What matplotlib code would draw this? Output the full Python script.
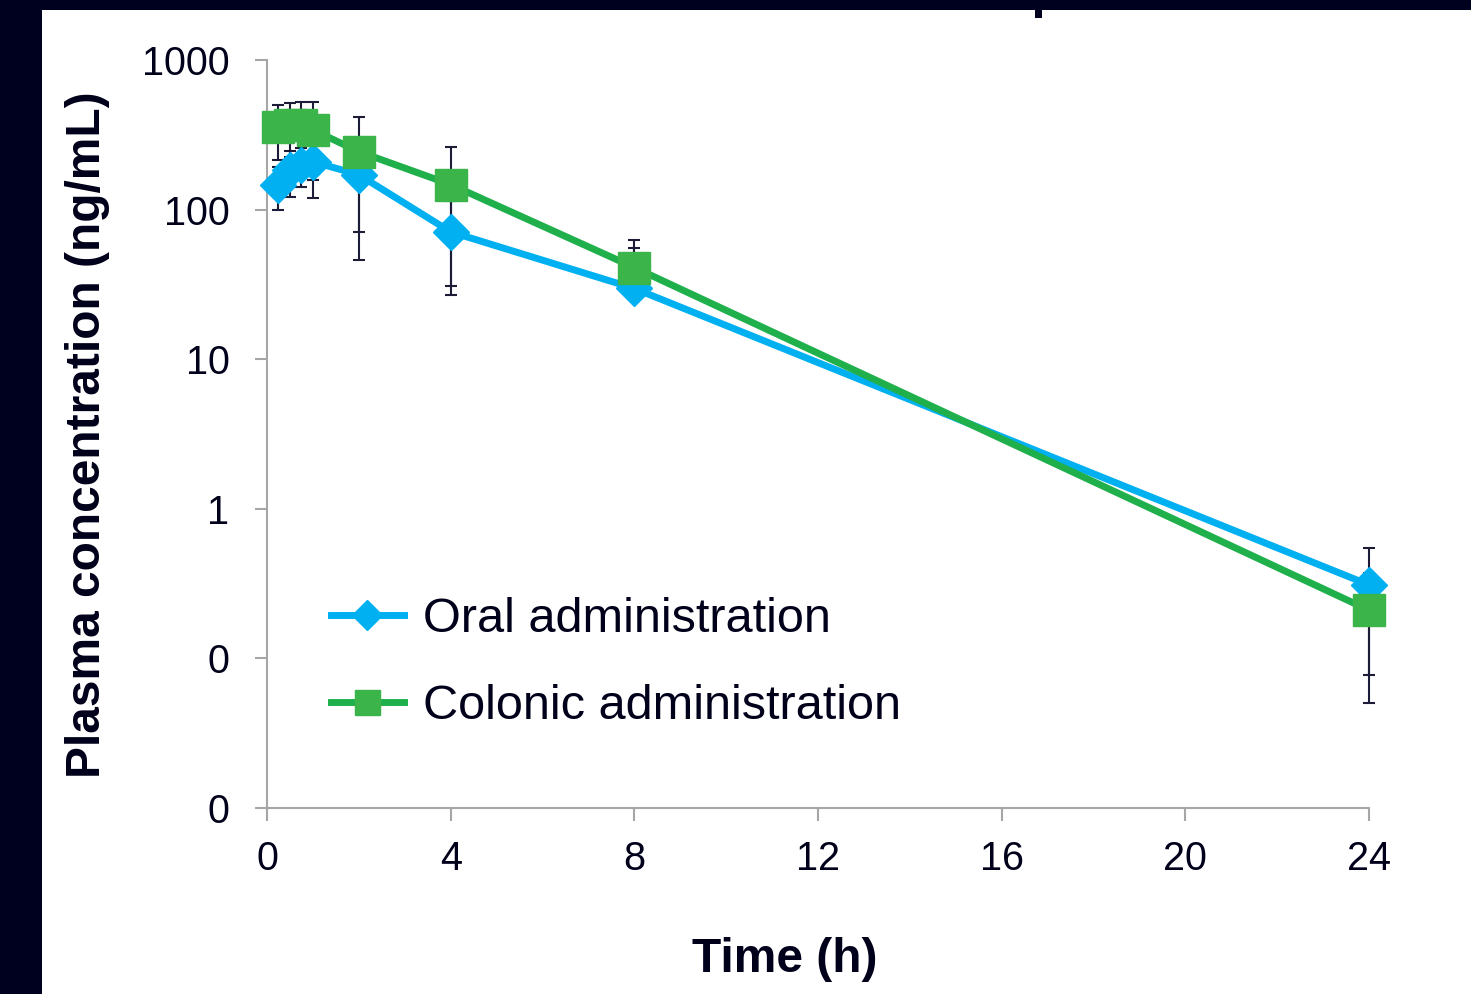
import matplotlib
matplotlib.use("Agg")
import matplotlib.pyplot as plt
from matplotlib.lines import Line2D
from matplotlib.patches import Rectangle
from matplotlib.ticker import FixedLocator, FixedFormatter, NullLocator

# ---- data ----
time_h = [0.25, 0.5, 0.75, 1, 2, 4, 8, 24]
oral_mean = [147, 185, 200, 209, 171, 71, 29.7, 0.31]
oral_err_minus = [47, 63, 58, 90, 125, 44, 5, 0.233]
oral_err_plus = [47, 63, 58, 90, 125, 44, 26, 0.24]
colonic_mean = [357, 370, 370, 341, 244, 147, 41, 0.21]
colonic_err_minus = [144, 147, 155, 184, 173, 116, 10, 0.16]
colonic_err_plus = [144, 147, 155, 184, 173, 116, 22, 0.16]
series_labels = ["Oral administration", "Colonic administration"]
x_ticks = [0, 4, 8, 12, 16, 20, 24]
y_ticks = [1000, 100, 10, 1, 0.1, 0.01]
y_tick_labels = ["1000", "100", "10", "1", "0", "0"]

plt.rcParams['font.family'] = ['Liberation Sans', 'DejaVu Sans']
TXT = '#00001a'
BLUE = '#00B0F0'
GREEN_L = '#1FB04B'
GREEN_M = '#3BB54A'
ERR = '#1c1c38'
GRAY = '#a6a6a6'

W, H = 1471, 994
fig = plt.figure(figsize=(W / 100, H / 100), dpi=100)
fig.patch.set_facecolor('white')
ax = fig.add_axes([267 / W, 1 - 808 / H, (1369 - 267) / W, (808 - 60) / H])

ax.set_yscale('log')
ax.set_ylim(0.01, 1000)
ax.set_xlim(0, 24)

# error bars (behind markers)
ax.errorbar(time_h, oral_mean, yerr=[oral_err_minus, oral_err_plus], fmt='none',
            ecolor=ERR, elinewidth=1.5, capsize=4, capthick=1.5, zorder=2, clip_on=False)
ax.errorbar(time_h, colonic_mean, yerr=[colonic_err_minus, colonic_err_plus], fmt='none',
            ecolor=ERR, elinewidth=1.5, capsize=4, capthick=1.5, zorder=2, clip_on=False)

ax.plot(time_h, oral_mean, color=BLUE, lw=5, marker='D', ms=18,
        mfc=BLUE, mec=BLUE, zorder=3, clip_on=False)
ax.plot(time_h, colonic_mean, color=GREEN_L, lw=5, marker='s', ms=23,
        mfc=GREEN_M, mec=GREEN_M, zorder=4, clip_on=False)

# axes styling
for s in ['top', 'right']:
    ax.spines[s].set_visible(False)
for s in ['left', 'bottom']:
    ax.spines[s].set_color(GRAY)
    ax.spines[s].set_linewidth(1.5)
ax.yaxis.set_major_locator(FixedLocator(y_ticks))
ax.yaxis.set_major_formatter(FixedFormatter(y_tick_labels))
ax.yaxis.set_minor_locator(NullLocator())
ax.set_xticks(x_ticks)
ax.set_xticklabels([str(t) for t in x_ticks])
ax.tick_params(axis='both', direction='out', length=9, width=1.5, color=GRAY,
               labelsize=28.5, labelcolor=TXT)
ax.tick_params(axis='y', pad=18)
ax.tick_params(axis='x', pad=14)

# legend
h1 = Line2D([], [], color=BLUE, lw=5, marker='D', ms=15, mfc=BLUE, mec=BLUE)
h2 = Line2D([], [], color=GREEN_L, lw=5, marker='s', ms=18, mfc=GREEN_M, mec=GREEN_M)
leg = ax.legend([h1, h2], series_labels, loc='upper left',
                bbox_to_anchor=(331 / W, 1 - 597 / H), bbox_transform=fig.transFigure,
                frameon=False, fontsize=35, handlelength=1.5, handletextpad=0.4,
                labelspacing=0.86, borderpad=0, borderaxespad=0)
for t in leg.get_texts():
    t.set_color(TXT)

# axis titles
fig.text(785 / W, 1 - 960 / H, "Time (h)", fontsize=34.5, fontweight='bold',
         color=TXT, ha='center', va='center')
fig.text(88 / W, 1 - 435 / H, "Plasma concentration (ng/mL)", fontsize=34.5,
         fontweight='bold', color=TXT, ha='center', va='center', rotation=90)

# dark frame bands
fig.patches.append(Rectangle((0, 0), 42 / W, 1, transform=fig.transFigure,
                             facecolor='#00001f', edgecolor='none', zorder=10))
fig.patches.append(Rectangle((0, 1 - 10 / H), 1, 10 / H, transform=fig.transFigure,
                             facecolor='#00001f', edgecolor='none', zorder=10))
fig.patches.append(Rectangle((1035 / W, 1 - 18 / H), 7 / W, 9 / H, transform=fig.transFigure,
                             facecolor='#00001f', edgecolor='none', zorder=10))

fig.savefig('out.png', dpi=100)
